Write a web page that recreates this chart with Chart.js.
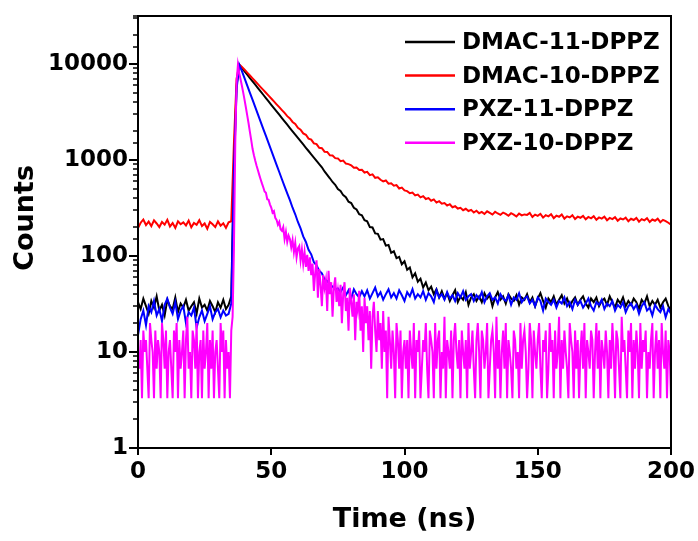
<!DOCTYPE html>
<html>
<head>
<meta charset="utf-8">
<script src="https://cdn.jsdelivr.net/npm/chart.js@4"></script>
<style>
  html, body { margin: 0; padding: 0; background: #fff; }
  #wrap { width: 698px; height: 541px; }
</style>
</head>
<body>
<div id="wrap"><canvas id="decayChart" width="698" height="541"></canvas></div>
<script>
const seriesNames = ['DMAC-11-DPPZ', 'DMAC-10-DPPZ', 'PXZ-11-DPPZ', 'PXZ-10-DPPZ'];
const seriesColors = ['#000000', '#ff0000', '#0000ff', '#ff00ff'];
// sampling step of each trace in ns (all start at 0 ns)
const seriesStep = [1, 1, 1, 0.5];

const dmac11 = [
	33, 28, 36, 30, 25, 34, 29, 38, 27, 31,
	24, 35, 30, 28, 37, 26, 32, 29, 35, 27,
	30, 33, 25, 36, 29, 31, 27, 34, 30, 26,
	33, 29, 35, 28, 31, 38,
	900, 6000, 9800,
	9070, 8370, 7730, 7130, 6580, 6080, 5610, 5180, 4780, 4410, 4070,
	3760, 3470, 3210, 2960, 2730, 2520, 2330, 2150, 1990, 1840,
	1700, 1570, 1450, 1340, 1240, 1145, 1060, 980, 905, 840,
	760, 700,
	645, 590, 552, 498, 476, 430, 410, 368, 356, 318, 305, 272, 266, 236, 230,
	200, 198, 172, 170, 148, 150, 128, 130, 108, 112, 95, 98, 82, 88, 72, 76,
	60, 66, 54, 58, 47, 53, 44, 48, 40, 45, 37, 43,
	36, 41, 34, 39, 44, 33, 38, 35, 42, 31,
	37, 40, 34, 38, 33, 41, 36, 39, 30, 37,
	42, 35, 38, 32, 40, 36, 34, 39, 31, 37,
	35, 40, 33, 37, 30, 36, 41, 34, 29, 36,
	33, 38, 31, 35, 39, 32, 36, 30, 34, 37,
	31, 35, 38, 32, 29, 36, 33, 37, 30, 34,
	36, 31, 38, 33, 29, 35, 32, 37, 30, 34,
	31, 36, 33, 28, 35, 32, 38, 30, 34, 31,
	35, 29, 33, 36, 30, 27
];

const dmac10 = [
	195, 222, 240, 210, 228, 205, 235, 218, 200, 226,
	212, 238, 203, 220, 196, 230, 214, 224, 208, 234,
	199, 221, 211, 236, 205, 218, 192, 226, 214, 200,
	229, 207, 219, 196, 224, 230,
	1500, 7000, 9900,
	9330, 8710, 8130, 7590, 7080, 6610, 6170, 5750, 5370, 5010, 4680, 4370, 4070, 3800, 3550, 3310, 3090,
	2860, 2710, 2490, 2370, 2160, 2070, 1890, 1830, 1670, 1630, 1490, 1465, 1340, 1325, 1220, 1212, 1120,
	1112, 1045, 1038, 972, 985, 918, 906, 880, 830, 834, 788, 792, 740, 752,
	695, 708, 652, 660, 622, 598, 612, 566, 571, 540, 548, 505, 516, 482,
	474, 450, 458, 428, 436, 408, 420, 392, 401, 376, 388, 360, 372,
	350, 356, 335, 346, 322, 330, 312, 318, 300, 310, 294, 302,
	284, 296, 279, 288, 274, 292, 281, 270, 289, 277,
	268, 283, 274, 262, 279, 270, 258, 276, 265, 271,
	268, 281, 255, 270, 262, 275, 251, 266, 259, 272,
	248, 263, 256, 270, 245, 259, 252, 266, 243, 257,
	250, 262, 241, 255, 247, 260, 238, 252, 245, 257,
	236, 249, 242, 254, 233, 246, 240, 251, 230, 244,
	237, 249, 228, 242, 235, 247, 226, 240, 233, 245,
	225, 238, 231, 222, 212
];

const pxz11 = [
	15, 22, 27, 19, 30, 26, 34, 24, 28, 21,
	31, 36, 29, 25, 33, 22, 27, 30, 20, 26,
	24, 29, 18, 23, 27, 21, 25, 30, 22, 26,
	28, 23, 27, 24, 25, 32,
	800, 5500, 9800,
	8410, 7080, 5960, 5010, 4220, 3550, 2990, 2510, 2110, 1780, 1500, 1260, 1060, 890, 750, 630, 530,
	450, 382, 318, 272, 226, 194, 160, 140, 116, 104, 86, 80, 70, 66, 57, 55, 50, 48, 45, 46,
	42, 47, 39, 44, 36, 45, 40, 37, 43, 38,
	44, 36, 41, 47, 38, 42, 35, 40, 45, 37,
	41, 36, 44, 39, 34, 42, 38, 45, 36, 40,
	37, 43, 35, 41, 38, 33, 44, 37, 40, 35,
	42, 36, 39, 34, 41, 37, 43, 35, 38, 40,
	34, 39, 36, 42, 33, 38, 41, 35, 37, 32,
	40, 36, 34, 39, 31, 37, 35, 41, 33, 36,
	38, 32, 35, 30, 37, 34, 27, 36, 33, 31,
	35, 29, 34, 32, 37, 30, 33, 28, 35, 31,
	34, 29, 32, 36, 30, 27, 33, 31, 35, 28,
	32, 30, 34, 27, 31, 29, 33, 26, 30, 32,
	28, 31, 25, 30, 33, 27, 29, 24, 31, 28,
	26, 30, 23, 28, 25
];

// PXZ-10-DPPZ is read at 0.5 ns steps (noisy, low counts)
const pxz10 = [
	10, 6.7, 13.3, 3.3, 16.7, 10, 13.3, 6.7, 3.3, 20,
	13.3, 10, 3.3, 16.7, 6.7, 13.3, 10, 3.3, 20, 13.3,
	6.7, 16.7, 3.3, 10, 13.3, 6.7, 3.3, 16.7, 10, 20,
	3.3, 13.3, 6.7, 10, 16.7, 3.3, 13.3, 23.3, 6.7, 10,
	3.3, 16.7, 13.3, 6.7, 20, 3.3, 10, 13.3, 3.3, 16.7,
	6.7, 10, 20, 3.3, 13.3, 6.7, 16.7, 3.3, 10, 13.3,
	6.7, 3.3, 20, 10, 16.7, 3.3, 13.3, 6.7, 10, 3.3,
	16.7, 23.3,
	120, 1500, 6500, 9800,
	8000, 6900, 5900, 5000, 4200, 3500, 2900, 2400, 1950, 1600, 1300, 1120, 980, 870, 780, 700, 630, 570,
	520, 470, 455, 390, 385, 345, 320, 283, 293, 250, 238, 212, 226, 190, 183, 200, 150, 178, 140,
	163, 150, 123, 147, 110, 137, 97, 120, 127, 90, 117, 83, 110, 77, 103, 70, 97, 63,
	83.3, 43.3, 66.7, 90, 36.7, 73.3, 50, 30, 63.3, 46.7,
	56.7, 26.7, 70, 40, 53.3, 23.3, 46.7, 60, 33.3, 43.3,
	30, 50, 20, 40, 53.3, 26.7, 36.7, 16.7, 46.7, 33.3,
	23.3, 40, 13.3, 33.3, 26.7, 43.3, 16.7, 30, 10, 36.7,
	20, 30, 13.3, 26.7, 6.7, 23.3, 33.3, 16.7, 10, 26.7,
	13.3, 20, 6.7, 26.7, 10, 16.7, 3.3, 23.3, 13.3, 6.7,
	16.7, 10, 3.3, 20, 13.3, 6.7, 16.7, 3.3, 10, 13.3,
	6.7, 13.3, 3.3, 16.7, 10, 6.7, 20, 3.3, 13.3, 10,
	16.7, 3.3, 6.7, 13.3, 10, 20, 6.7, 3.3, 16.7, 13.3,
	10, 3.3, 20, 6.7, 13.3, 16.7, 3.3, 10, 6.7, 23.3,
	3.3, 13.3, 10, 6.7, 16.7, 3.3, 13.3, 20, 10, 6.7,
	13.3, 3.3, 16.7, 10, 6.7, 13.3, 3.3, 20, 6.7, 10,
	16.7, 6.7, 3.3, 13.3, 20, 10, 3.3, 16.7, 13.3, 6.7,
	10, 20, 3.3, 6.7, 13.3, 16.7, 10, 3.3, 23.3, 6.7,
	13.3, 3.3, 10, 16.7, 6.7, 20, 3.3, 13.3, 10, 6.7,
	3.3, 16.7, 13.3, 6.7, 10, 3.3, 20, 6.7, 13.3, 16.7,
	10, 3.3, 6.7, 20, 13.3, 3.3, 16.7, 10, 6.7, 13.3,
	20, 6.7, 3.3, 13.3, 10, 16.7, 3.3, 6.7, 20, 10,
	13.3, 3.3, 16.7, 6.7, 10, 23.3, 3.3, 13.3, 6.7, 16.7,
	10, 6.7, 3.3, 20, 13.3, 10, 3.3, 16.7, 6.7, 13.3,
	3.3, 10, 16.7, 6.7, 20, 3.3, 13.3, 10, 6.7, 16.7,
	13.3, 3.3, 10, 20, 6.7, 16.7, 3.3, 13.3, 10, 6.7,
	16.7, 10, 3.3, 13.3, 6.7, 20, 10, 3.3, 16.7, 13.3,
	6.7, 3.3, 23.3, 10, 13.3, 6.7, 3.3, 16.7, 10, 20,
	3.3, 13.3, 6.7, 16.7, 10, 3.3, 20, 6.7, 13.3, 10,
	16.7, 3.3, 10, 6.7, 13.3, 20, 3.3, 10, 16.7, 6.7,
	13.3, 3.3, 20, 10, 6.7, 16.7, 3.3, 13.3, 10, 3.3
];

const allSeries = [dmac11, dmac10, pxz11, pxz10];
const xMin = 0;
const xMax = 200;
const xTickStep = 50;
const yMin = 1;
const yMax = 31600;

const FONT = 'DejaVu Sans';

// box, tick marks and legend drawn by hand (Origin style)
const frameAndLegend = {
	id: 'frameAndLegend',
	afterDraw(chart) {
		const { ctx, chartArea: a, scales } = chart;
		const xs = scales.x;
		const ys = scales.y;
		ctx.save();
		ctx.strokeStyle = '#000';
		ctx.lineWidth = 2;
		ctx.strokeRect(a.left, a.top, a.right - a.left, a.bottom - a.top);

		xs.ticks.forEach((t) => {
			const px = Math.round(xs.getPixelForValue(t.value));
			ctx.beginPath();
			ctx.moveTo(px, a.bottom);
			ctx.lineTo(px, a.bottom + 7);
			ctx.stroke();
		});

		ys.ticks.forEach((t) => {
			const py = Math.round(ys.getPixelForValue(t.value));
			const lg = Math.log10(t.value);
			const major = Math.abs(lg - Math.round(lg)) < 1e-6;
			ctx.lineWidth = major ? 2 : 1.5;
			ctx.beginPath();
			ctx.moveTo(a.left, py);
			ctx.lineTo(a.left - (major ? 9 : 5), py);
			ctx.stroke();
		});

		// legend, top right inside the plot
		ctx.font = 'bold 23px ' + FONT;
		ctx.textBaseline = 'middle';
		ctx.textAlign = 'left';
		chart.data.datasets.forEach((ds, i) => {
			const y = a.top + 26 + i * 33.6;
			const x0 = a.right - 266;
			ctx.strokeStyle = ds.borderColor;
			ctx.lineWidth = 2.5;
			ctx.beginPath();
			ctx.moveTo(x0, y);
			ctx.lineTo(x0 + 50, y);
			ctx.stroke();
			ctx.fillStyle = '#000';
			ctx.fillText(ds.label, x0 + 57, y + 1);
		});
		ctx.restore();
	},
};

// no extra room for overhanging tick labels, the layout padding handles it
function noLabelPadding(s) {
	s.paddingTop = 0;
	s.paddingBottom = 0;
	s.paddingLeft = 0;
	s.paddingRight = 0;
}

const ctx = document.getElementById('decayChart');

const datasets = allSeries.map((vals, i) => ({
	label: seriesNames[i],
	data: vals.map((v, j) => ({ x: j * seriesStep[i], y: v })),
	borderColor: seriesColors[i],
	borderWidth: 2,
	pointRadius: 0,
	tension: 0,
	order: allSeries.length - i,
}));

new Chart(ctx, {
	type: 'line',
	data: { datasets: datasets },
	options: {
		responsive: false,
		animation: false,
		events: [],
		layout: { padding: { top: 16, right: 27, bottom: 0, left: 0 } },
		plugins: {
			legend: { display: false },
			tooltip: { enabled: false },
		},
		scales: {
			x: {
				type: 'linear',
				min: xMin,
				max: xMax,
				afterFit: (s) => { s.height = 93; noLabelPadding(s); },
				grid: { display: false, drawTicks: false },
				border: { display: false },
				ticks: {
					stepSize: xTickStep,
					padding: 10,
					color: '#000',
					font: { family: FONT, size: 23, weight: 'bold' },
				},
				title: {
					display: true,
					text: 'Time (ns)',
					color: '#000',
					font: { family: FONT, size: 27, weight: 'bold' },
					padding: { top: 0, bottom: 5 },
				},
			},
			y: {
				type: 'logarithmic',
				min: yMin,
				max: yMax,
				afterFit: (s) => { s.width = 138; noLabelPadding(s); },
				grid: { display: false, drawTicks: false },
				border: { display: false },
				ticks: {
					autoSkip: false,
					padding: 10,
					color: '#000',
					font: { family: FONT, size: 23, weight: 'bold' },
					callback: (v) => {
						const lg = Math.log10(v);
						return Math.abs(lg - Math.round(lg)) < 1e-6 ? String(Math.round(v)) : '';
					},
				},
				title: {
					display: true,
					text: '   Counts',
					color: '#000',
					font: { family: FONT, size: 27, weight: 'bold' },
					padding: { top: 10, bottom: 0 },
				},
			},
		},
	},
	plugins: [frameAndLegend],
});
</script>
</body>
</html>
